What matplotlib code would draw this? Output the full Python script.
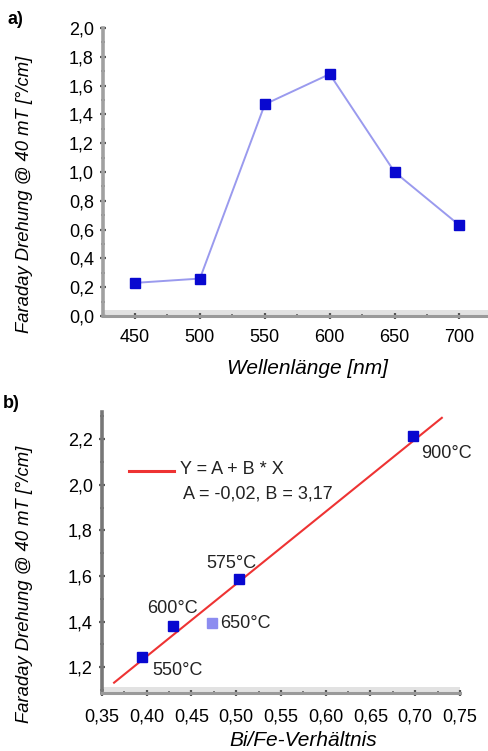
import matplotlib
matplotlib.use("Agg")
import matplotlib.pyplot as plt
from matplotlib.patches import Rectangle
from matplotlib.ticker import MultipleLocator, FuncFormatter
import numpy as np

plt.rcParams['font.family'] = ['Liberation Sans', 'DejaVu Sans']

# ---- data panel a ----
wavelength = [450, 500, 550, 600, 650, 700]
rotation_a = [0.23, 0.26, 1.47, 1.68, 1.00, 0.63]

# ---- data panel b ----
bife_ratio = [0.3945, 0.429, 0.4725, 0.5035, 0.698]
rotation_b = [1.244, 1.381, 1.396, 1.586, 2.215]
temp_labels = ["550°C", "600°C", "650°C", "575°C", "900°C"]
fit_A = -0.02
fit_B = 3.17
fit_range = [0.3635, 0.7297]

W, H = 488, 751
fig = plt.figure(figsize=(W / 100, H / 100), dpi=100)

def fx(px):
    return px / W

def fy(py):
    return 1 - py / H

comma = FuncFormatter(lambda v, p: f"{v:.1f}".replace('.', ','))
comma2 = FuncFormatter(lambda v, p: f"{v:.2f}".replace('.', ','))

def style(ax):
    for s in ['top', 'right']:
        ax.spines[s].set_visible(False)
    ax.spines['left'].set_color('#a0a0a0')
    ax.spines['left'].set_linewidth(2.6)
    ax.spines['bottom'].set_color('#9a9a9a')
    ax.spines['bottom'].set_linewidth(2.2)
    ax.tick_params(which='major', direction='inout', length=5, width=1.6,
                   color='#555555', labelsize=13, pad=5)
    ax.tick_params(which='minor', direction='inout', length=3, width=1.4,
                   color='#777777')
    ax.tick_params(axis='y', which='major', pad=4)

# ---------- panel a ----------
axa = fig.add_axes([fx(103), fy(316), fx(488 - 103), (316 - 28) / H])
axa.plot(wavelength, rotation_a, color='#9a9aee', lw=1.4, zorder=2,
         clip_on=False)
axa.plot(wavelength, rotation_a, ls='none', marker='s', ms=7,
         color='#0808d0', zorder=3, clip_on=False)
axa.set_xlim(425.3, 722)
axa.set_ylim(0, 2.0)
axa.set_xticks(wavelength)
axa.xaxis.set_minor_locator(MultipleLocator(25))
axa.yaxis.set_major_locator(MultipleLocator(0.2))
axa.yaxis.set_minor_locator(MultipleLocator(0.1))
axa.yaxis.set_major_formatter(comma)
style(axa)
axa.add_patch(Rectangle((0, 0), 1, 6 / 288, transform=axa.transAxes,
                        color='#e2e2e2', lw=0, zorder=0))
axa.tick_params(axis='x', pad=7)
fig.text(fx(307), fy(368), "Wellenlänge [nm]", fontsize=15, style='italic',
         ha='center', va='center')
fig.text(fx(25), fy(194), "Faraday Drehung @ 40 mT [°/cm]", fontsize=13.3,
         style='italic', rotation=90, ha='center', va='center')
fig.text(fx(8), fy(20), "a)", fontsize=13, fontweight='bold',
         ha='left', va='center')

# ---------- panel b ----------
axb = fig.add_axes([fx(102), fy(693), fx(460 - 102), (693 - 411.7) / H])
xs = np.array(fit_range)
axb.plot(xs, fit_A + fit_B * xs, color='#ee3333', lw=1.5, zorder=2,
         clip_on=False)
colors_b = ['#0808d0', '#0808d0', '#8c8cf0', '#0808d0', '#0808d0']
for x, y, c in zip(bife_ratio, rotation_b, colors_b):
    axb.plot([x], [y], ls='none', marker='s', ms=7, color=c, zorder=3,
             clip_on=False)
offsets = [(10, -13), (-26, 17), (8, -1), (-33, 16), (8, -18)]
for x, y, t, o in zip(bife_ratio, rotation_b, temp_labels, offsets):
    axb.annotate(t, (x, y), xytext=o, textcoords='offset pixels',
                 fontsize=13, ha='left', va='center', color='#222222')
axb.set_xlim(0.35, 0.75)
axb.set_ylim(1.087, 2.32)
axb.set_xticks(np.arange(0.35, 0.751, 0.05))
axb.xaxis.set_minor_locator(MultipleLocator(0.025))
axb.set_yticks(np.arange(1.2, 2.21, 0.2))
axb.yaxis.set_minor_locator(MultipleLocator(0.1))
axb.xaxis.set_major_formatter(comma2)
axb.yaxis.set_major_formatter(comma)
style(axb)
axb.spines['left'].set_color('#777777')
axb.add_patch(Rectangle((0, 0), 1, 6 / 281, transform=axb.transAxes,
                        color='#e2e2e2', lw=0, zorder=0))
axb.tick_params(axis='x', pad=9)

# legend
fig.add_artist(plt.Line2D([fx(129), fx(174)], [fy(470.7), fy(470.7)],
                          color='#ee3333', lw=2.2))
fig.text(fx(180), fy(470), "Y = A + B * X", fontsize=13, ha='left',
         va='center', color='#222222')
fig.text(fx(183), fy(494), "A = -0,02, B = 3,17", fontsize=13, ha='left',
         va='center', color='#222222')

fig.text(fx(303), fy(740), "Bi/Fe-Verhältnis", fontsize=15, style='italic',
         ha='center', va='center')
fig.text(fx(25), fy(584), "Faraday Drehung @ 40 mT [°/cm]", fontsize=13.3,
         style='italic', rotation=90, ha='center', va='center')
fig.text(fx(3), fy(403), "b)", fontsize=13, fontweight='bold',
         ha='left', va='center')

fig.savefig("out.png", dpi=100)
